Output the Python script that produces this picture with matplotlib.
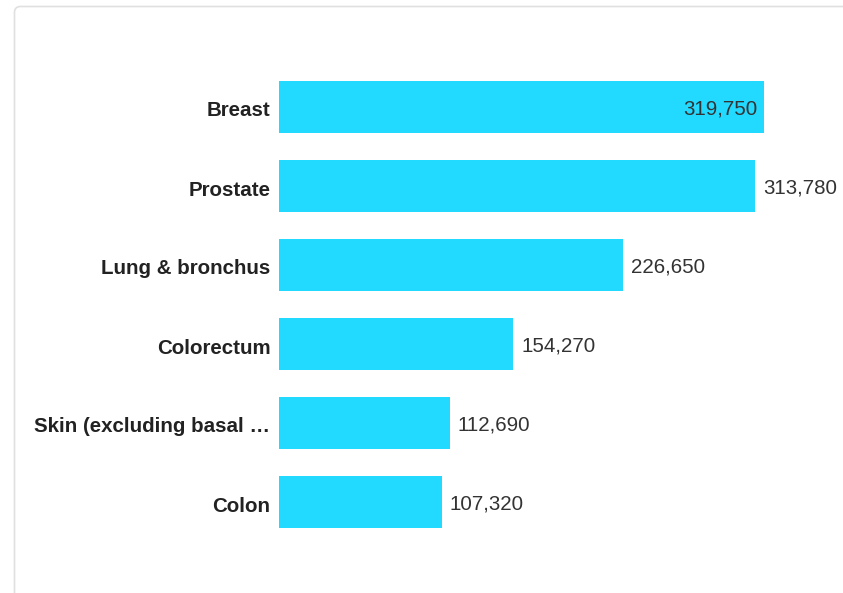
import matplotlib
matplotlib.use("Agg")
import matplotlib.pyplot as plt
import matplotlib.transforms as mtransforms
from matplotlib.patches import FancyBboxPatch

# Estimated new cases by cancer site
sites = ["Breast", "Prostate", "Lung & bronchus", "Colorectum",
         "Skin (excluding basal \u2026", "Colon"]
cases = [319750, 313780, 226650, 154270, 112690, 107320]

bar_color = "#22d9ff"
plt.rcParams["font.family"] = ["Liberation Sans", "DejaVu Sans"]

fig = plt.figure(figsize=(8.43, 5.93), dpi=100)
fig.patch.set_facecolor("white")

# Panel card border (pixel-space background axes)
bg = fig.add_axes([0, 0, 1, 1], zorder=0)
bg.set_xlim(0, 843)
bg.set_ylim(593, 0)
bg.axis("off")
bg.add_patch(FancyBboxPatch((14.5, 6.5), 900, 700,
                            boxstyle="round,pad=0,rounding_size=6",
                            facecolor="white", edgecolor="#e0e0e0", linewidth=1.2))

ax = fig.add_axes([279 / 843, 51.5 / 593, 564 / 843, 474 / 593], zorder=1)
ax.patch.set_alpha(0)

ypos = list(range(len(sites)))
ax.barh(ypos, cases, height=0.66, color=bar_color)
ax.set_xlim(0, 564 / 0.001517)
ax.set_ylim(len(sites) - 0.5, -0.5)

for s in ax.spines.values():
    s.set_visible(False)
ax.set_xticks([])
ax.set_yticks(ypos)
ax.set_yticklabels(sites, fontsize=14.8, fontweight="bold", color="#222222")
ax.tick_params(axis="y", length=0, pad=6.3)

# nudge category labels down a touch
shift = mtransforms.ScaledTranslation(0, -2 / 100, fig.dpi_scale_trans)
for lbl in ax.get_yticklabels():
    lbl.set_transform(lbl.get_transform() + shift)

top = max(cases)
for y, v in zip(ypos, cases):
    label = f"{v:,}"
    if v == top:
        ax.annotate(label, (v, y), xytext=(-7, -2), textcoords="offset pixels",
                    ha="right", va="center", fontsize=14.8, color="#333333")
    else:
        ax.annotate(label, (v, y), xytext=(8, -2), textcoords="offset pixels",
                    ha="left", va="center", fontsize=14.8, color="#333333")

fig.savefig("out.png", dpi=100)
